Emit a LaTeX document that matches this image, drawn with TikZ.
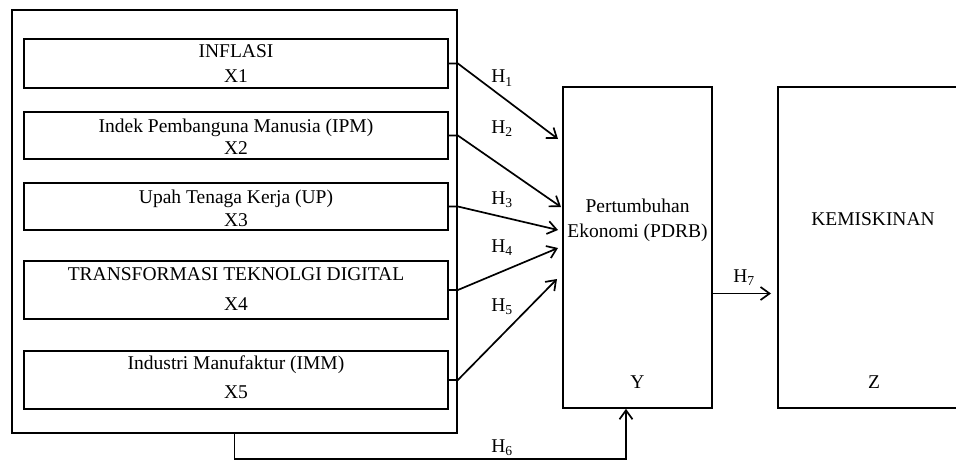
\documentclass[tikz,border=0pt]{standalone}
\usepackage{fontspec}
\setmainfont{Liberation Serif}
\usetikzlibrary{arrows.meta,calc}
\begin{document}
\begin{tikzpicture}[x=1pt,y=-1pt,
  lw/.style={line width=1.7pt},
  rect/.style={draw,lw,inner sep=0pt,rectangle},
  txt/.style={anchor=base,inner sep=0pt,font=\fontsize{19.5}{22}\selectfont},
  arr/.style={lw,-{Straight Barb[length=9pt,width=13pt,line width=1.7pt]}}]
\useasboundingbox (0,0) rectangle (956,460);
% outer frame
\node[rect,minimum width=445pt,minimum height=423pt] (outer) at (234.5,221.5) {};
% inner boxes
\node[rect,minimum width=424pt,minimum height=49pt] (b1) at (236,63.5) {};
\node[rect,minimum width=424pt,minimum height=47pt] (b2) at (236,135.5) {};
\node[rect,minimum width=424pt,minimum height=47pt] (b3) at (236,206.5) {};
\node[rect,minimum width=424pt,minimum height=58pt] (b4) at (236,290) {};
\node[rect,minimum width=424pt,minimum height=58pt] (b5) at (236,380) {};
% texts of inner boxes
\node[txt] (t1a) at (236,58) {INFLASI};
\node[txt] (t1b) at (236,83) {X1};
\node[txt] (t2a) at (236,132) {Indek Pembanguna Manusia (IPM)};
\node[txt] (t2b) at (236,154) {X2};
\node[txt] (t3a) at (236,203) {Upah Tenaga Kerja (UP)};
\node[txt] (t3b) at (236,226) {X3};
\node[txt] (t4a) at (236,280) {TRANSFORMASI TEKNOLGI DIGITAL};
\node[txt] (t4b) at (236,310) {X4};
\node[txt] (t5a) at (236,369) {Industri Manufaktur (IMM)};
\node[txt] (t5b) at (236,398) {X5};
% Y box
\node[rect,minimum width=149pt,minimum height=321pt] (Y) at (637.5,247.5) {};
\node[txt] (ya) at (637.5,212) {Pertumbuhan};
\node[txt] (yb) at (637.5,237) {Ekonomi (PDRB)};
\node[txt] (yc) at (637.5,388) {Y};
% Z box (open to the right, cut by the edge)
\draw[lw] (957,87) -- (778,87) -- (778,408) -- (957,408);
\node[txt] (za) at (873,225) {KEMISKINAN};
\node[txt] (zb) at (874,388) {Z};
% arrow tips
\coordinate (e1) at (558,139);
\coordinate (e2) at (561,207);
\coordinate (e3) at (558,230);
\coordinate (e4) at (558,248);
\coordinate (e5) at (557,279);
\coordinate (e7) at (771,293.5);
\coordinate (h6) at (626,459);
% connectors
\draw[arr] (b1.east) -- (b1.east -| outer.east) -- (e1);
\draw[arr] (b2.east) -- (b2.east -| outer.east) -- (e2);
\draw[arr] (b3.east) -- (b3.east -| outer.east) -- (e3);
\draw[arr] (b4.east) -- (b4.east -| outer.east) -- (e4);
\draw[arr] (b5.east) -- (b5.east -| outer.east) -- (e5);
\draw[arr] (Y.east |- e7) -- (e7);
\draw[arr] (outer.south) |- (h6) -- (h6 |- Y.south);
% labels
\node[txt] (l1) at (502,83) {H\textsubscript{1}};
\node[txt] (l2) at (502,133) {H\textsubscript{2}};
\node[txt] (l3) at (502,204) {H\textsubscript{3}};
\node[txt] (l4) at (502,252) {H\textsubscript{4}};
\node[txt] (l5) at (502,311) {H\textsubscript{5}};
\node[txt] (l6) at (502,452) {H\textsubscript{6}};
\node[txt] (l7) at (744,282) {H\textsubscript{7}};
\end{tikzpicture}
\end{document}
